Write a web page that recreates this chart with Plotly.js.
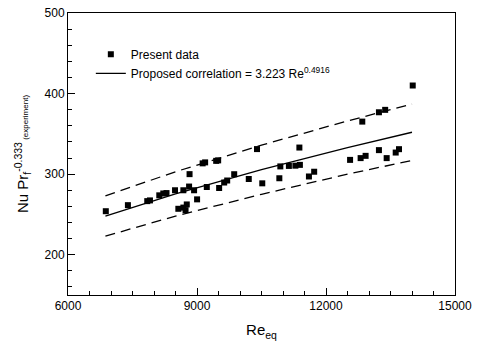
<!DOCTYPE html>
<html>
<head>
<meta charset="utf-8">
<script src="https://cdn.plot.ly/plotly-3.0.1.min.js"></script>
<style>html,body{margin:0;padding:0;background:#fff;}#chart{width:483px;height:345px;}</style>
</head>
<body>
<div id="chart"></div>
<script>
// Experimental points (Re_eq, Nu Pr^-0.333)
const reData = [6879, 7393, 7843, 7906, 8123, 8216, 8291, 8489, 8683, 8816, 8827, 8932, 9002,
  8566, 8683, 8762, 8734, 9131, 9189, 9446, 9492, 9228, 9515, 9632, 9702, 9865,
  10204, 10518, 10395, 10915, 10938, 11137, 11288, 11393, 11381, 11603, 11725,
  12560, 12805, 12921, 12844, 13231, 13376, 13231, 13411, 13621, 13698, 14017];
const nuData = [254, 261.5, 266.5, 267.4, 273.7, 276, 276.5, 280, 280, 284.6, 300, 280, 268.7,
  257, 258.5, 262.4, 255.3, 313.4, 314.6, 316.5, 317.1, 284, 282.8, 289.6, 292.1, 299.9,
  294, 288.6, 331.1, 294.9, 309.6, 310.2, 310.5, 311.5, 333, 297.1, 303,
  317.7, 319.9, 322.7, 365.2, 376.8, 379.8, 329.8, 319.9, 326.8, 331, 410];

// Correlation line and +/- band
const reLine = [6870, 8500, 10500, 12500, 14000];
const nuCorr = [248, 275.4, 305.5, 333, 352];
const nuUpper = [273, 303, 336, 366, 387];
const nuLower = [223, 248, 275, 300, 317];

const xTicks = [6000, 9000, 12000, 15000];
const yTicks = [200, 300, 400, 500];

const FONT = 'Arial, "Liberation Sans", Helvetica, sans-serif';

const traces = [
  {x: reData, y: nuData, type: 'scatter', mode: 'markers', name: 'Present data',
   marker: {symbol: 'square', size: 6, color: '#000'}},
  {x: reLine, y: nuCorr, type: 'scatter', mode: 'lines',
   name: 'Proposed correlation = 3.223 Re<sup>0.4916</sup>',
   line: {color: '#000', width: 1.3}},
  {x: reLine, y: nuUpper, type: 'scatter', mode: 'lines', showlegend: false,
   line: {color: '#000', width: 1.3, dash: '10px,6px'}},
  {x: reLine, y: nuLower, type: 'scatter', mode: 'lines', showlegend: false,
   line: {color: '#000', width: 1.3, dash: '10px,6px'}}
];

const layout = {
  width: 483, height: 345,
  margin: {l: 68, r: 28, t: 13, b: 50},
  paper_bgcolor: '#fff', plot_bgcolor: '#fff',
  font: {family: FONT, size: 12, color: '#000'},
  showlegend: true,
  legend: {x: 0.059, y: 0.905, xanchor: 'left', yanchor: 'top',
    bgcolor: 'rgba(0,0,0,0)', font: {size: 12, color: '#000'}, tracegroupgap: 0},
  xaxis: {
    range: [6000, 15000], tickvals: xTicks, ticktext: xTicks.map(String),
    showgrid: false, zeroline: false, showline: true, linecolor: '#000', linewidth: 1, mirror: true,
    ticks: 'inside', ticklen: 7, tickcolor: '#000',
    minor: {dtick: 500, ticks: 'inside', ticklen: 4, tickcolor: '#000', showgrid: false},
    tickfont: {size: 12, color: '#000'},
    title: {text: 'Re<sub>eq</sub>', font: {size: 15, color: '#000'}, standoff: 12}
  },
  yaxis: {
    range: [150, 500], tickvals: yTicks, ticktext: yTicks.map(String),
    showgrid: false, zeroline: false, showline: true, linecolor: '#000', linewidth: 1, mirror: true,
    ticks: 'inside', ticklen: 7, tickcolor: '#000',
    minor: {dtick: 20, ticks: 'inside', ticklen: 4, tickcolor: '#000', showgrid: false},
    tickfont: {size: 12, color: '#000'},
    title: {text: 'Nu Pr<sub>f</sub><sup>-0.333</sup><span style="font-size:8px"> (experiment)</span>',
      font: {size: 15, color: '#000'}, standoff: 12}
  }
};

Plotly.newPlot('chart', traces, layout, {displayModeBar: false, staticPlot: true});
</script>
</body>
</html>
